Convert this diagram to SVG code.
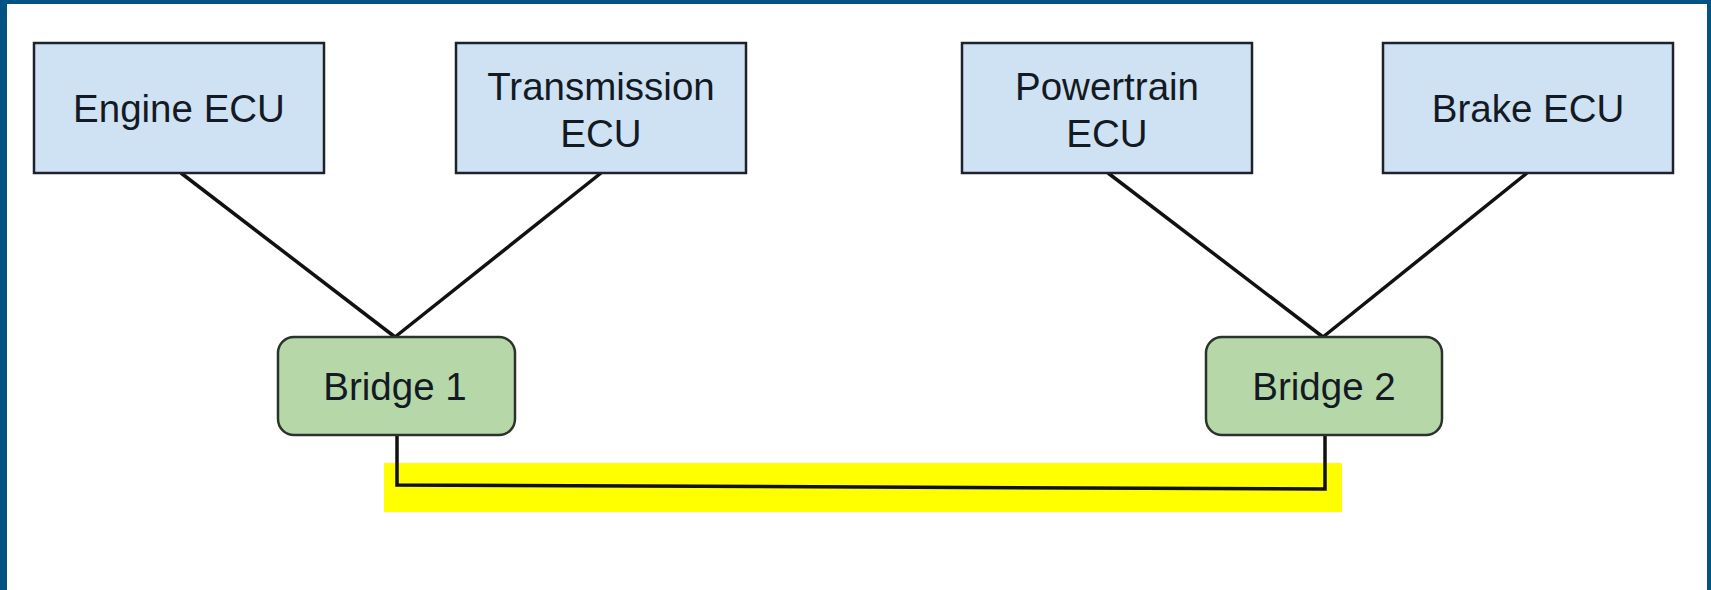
<svg xmlns="http://www.w3.org/2000/svg" width="1711" height="590" viewBox="0 0 1711 590">
  <style>
    .ecu { fill: #cfe2f3; stroke: #1e232b; stroke-width: 2.5; }
    .bridge { fill: #b6d7a8; stroke: #2a342a; stroke-width: 2.5; }
    .lbl { font-family: "Liberation Sans", Arial, sans-serif; font-size: 38.5px; fill: #141a24; text-anchor: middle; }
    .wire { stroke: #111111; stroke-width: 3.5; fill: none; stroke-linejoin: miter; }
  </style>
  <rect x="0" y="0" width="1711" height="590" fill="#ffffff"/>
  <!-- frame -->
  <rect x="0" y="0" width="7" height="590" fill="#005383"/>
  <rect x="0" y="0" width="1711" height="4" fill="#005383"/>
  <rect x="1707" y="0" width="4" height="590" fill="#005383"/>
  <!-- highlight -->
  <rect x="384" y="463" width="958" height="49" fill="#ffff00"/>
  <g id="connectors">
    <line class="wire" x1="181" y1="173" x2="395" y2="337"/>
    <line class="wire" x1="601" y1="173" x2="395" y2="337"/>
    <line class="wire" x1="1108" y1="173" x2="1323" y2="337"/>
    <line class="wire" x1="1527" y1="173" x2="1323" y2="337"/>
    <polyline class="wire" points="397,435 397,485 1325,489 1325,435"/>
  </g>
  <g id="engine-ecu">
    <rect class="ecu" x="34" y="43" width="290" height="130"/>
    <text class="lbl" x="179" y="122">Engine ECU</text>
  </g>
  <g id="transmission-ecu">
    <rect class="ecu" x="456" y="43" width="290" height="130"/>
    <text class="lbl" x="601" y="100">Transmission</text>
    <text class="lbl" x="601" y="147">ECU</text>
  </g>
  <g id="powertrain-ecu">
    <rect class="ecu" x="962" y="43" width="290" height="130"/>
    <text class="lbl" x="1107" y="100">Powertrain</text>
    <text class="lbl" x="1107" y="147">ECU</text>
  </g>
  <g id="brake-ecu">
    <rect class="ecu" x="1383" y="43" width="290" height="130"/>
    <text class="lbl" x="1528" y="122">Brake ECU</text>
  </g>
  <g id="bridge-1">
    <rect class="bridge" x="278" y="337" width="237" height="98" rx="16" ry="16"/>
    <text class="lbl" x="395" y="400">Bridge 1</text>
  </g>
  <g id="bridge-2">
    <rect class="bridge" x="1206" y="337" width="236" height="98" rx="16" ry="16"/>
    <text class="lbl" x="1324" y="400">Bridge 2</text>
  </g>
</svg>
